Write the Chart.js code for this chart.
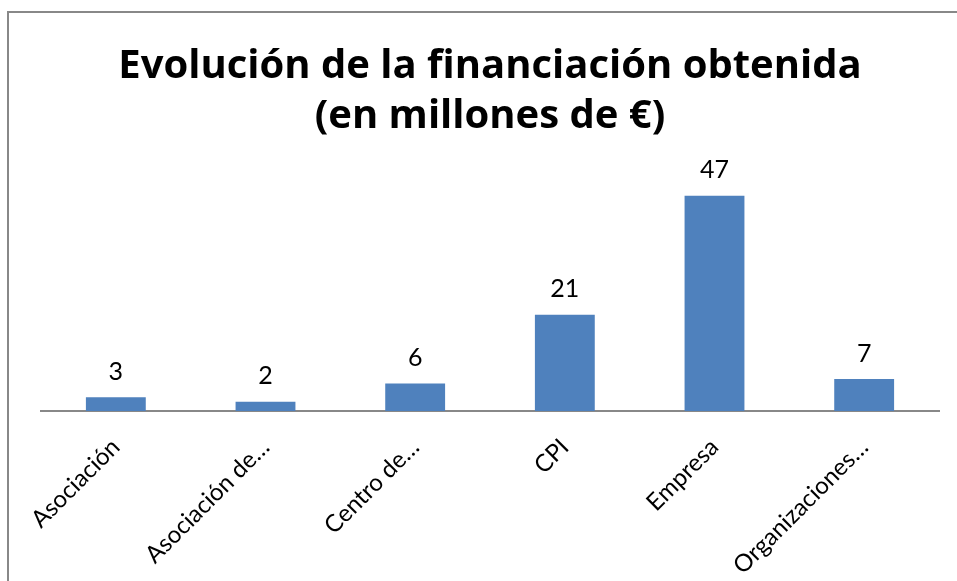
<!DOCTYPE html>
<html lang="es">
<head>
<meta charset="UTF-8">
<title>Evolución de la financiación obtenida</title>
<script src="https://cdn.jsdelivr.net/npm/chart.js"></script>
<style>
  html, body { margin: 0; padding: 0; background: #fff; }
  body { width: 957px; height: 581px; overflow: hidden; position: relative; }
  /* chart frame: only the top and left edges are visible */
  .frame { position: absolute; left: 7px; top: 11px; right: -4px; bottom: -4px;
           border-left: 2px solid #888; border-top: 2px solid #888; }
  #chart { position: absolute; left: 0; top: 0; }
</style>
</head>
<body>
<div class="frame"></div>
<canvas id="chart" width="957" height="581"></canvas>
<script>
const categories = ['Asociación', 'Asociación de…', 'Centro de…', 'CPI', 'Empresa', 'Organizaciones…'];
const financiacion = [3, 2, 6, 21, 47, 7];
const titleLines = ['Evolución de la financiación obtenida', '(en millones de €)'];

const FONT = "Lato, 'Open Sans', sans-serif";
const TITLE_FONT = "'Open Sans', Lato, sans-serif";

// write each bar's value just above it
const valueLabels = {
  id: 'valueLabels',
  afterDatasetsDraw(chart) {
    const ctx = chart.ctx;
    const meta = chart.getDatasetMeta(0);
    ctx.save();
    ctx.font = '25px ' + FONT;
    ctx.fillStyle = '#000';
    ctx.textAlign = 'center';
    ctx.textBaseline = 'bottom';
    meta.data.forEach((bar, i) => {
      ctx.fillText(String(financiacion[i]), bar.x, bar.y - 13);
    });
    ctx.restore();
  }
};

new Chart(document.getElementById('chart'), {
  type: 'bar',
  data: {
    labels: categories,
    datasets: [{
      data: financiacion,
      backgroundColor: '#4F81BD',
      borderWidth: 0,
      categoryPercentage: 1,
      barPercentage: 0.4
    }]
  },
  options: {
    responsive: false,
    animation: false,
    layout: { padding: { left: 41, right: 18, top: 0, bottom: 0 } },
    plugins: {
      legend: { display: false },
      tooltip: { enabled: false },
      title: {
        display: true,
        text: titleLines,
        color: '#000',
        font: { family: TITLE_FONT, size: 40, weight: 'bold', lineHeight: 1.25 },
        padding: { top: 42, bottom: 40 }
      }
    },
    scales: {
      x: {
        grid: { display: false, drawTicks: false },
        border: { display: true, color: '#888', width: 2 },
        ticks: {
          color: '#000',
          font: { family: FONT, size: 24 },
          minRotation: 45,
          maxRotation: 45,
          padding: 22,
          autoSkip: false
        },
        afterFit(scale) { scale.height = 170; }
      },
      y: {
        display: false,
        min: 0,
        max: 50
      }
    }
  },
  plugins: [valueLabels]
});
</script>
</body>
</html>
